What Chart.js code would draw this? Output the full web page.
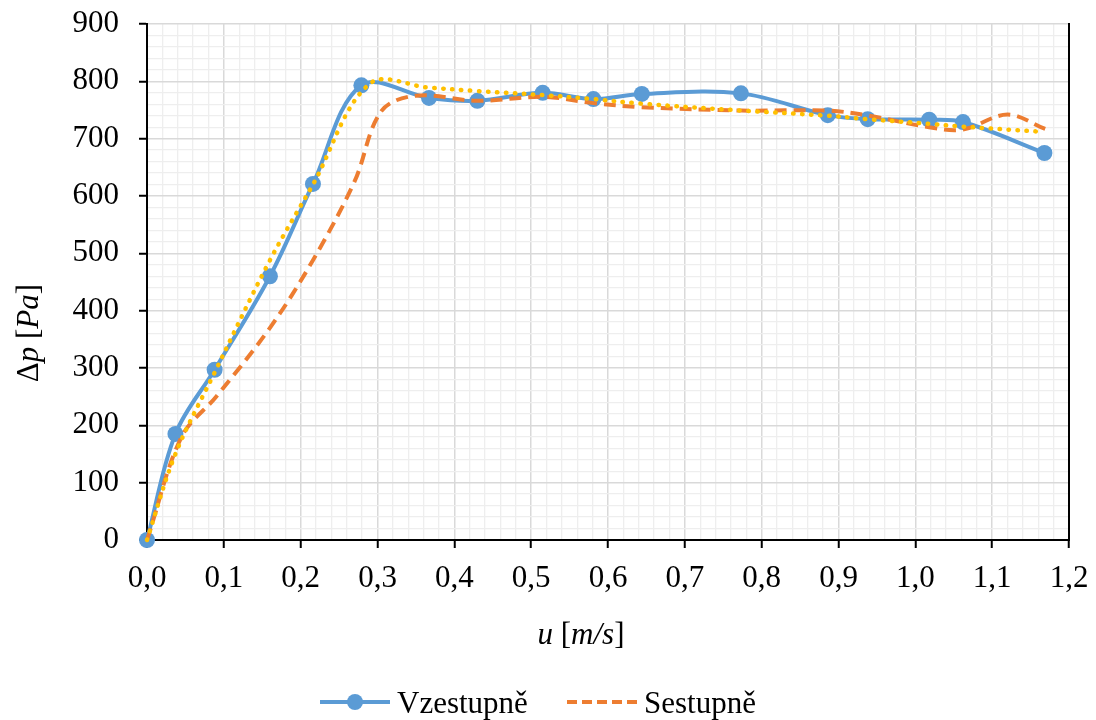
<!DOCTYPE html>
<html>
<head>
<meta charset="utf-8">
<script src="https://cdn.jsdelivr.net/npm/chart.js@4/dist/chart.umd.min.js"></script>
<style>
html,body{margin:0;padding:0;background:#fff;}
#c{display:block;}
</style>
</head>
<body>
<canvas id="c" width="1096" height="720" style="width:1096px;height:720px"></canvas>
<script>
// ---- data ----
const SERIES_NAMES = ['Vzestupně', 'Sestupně'];

// ascending series (with markers)
const U_UP = [0, 0.037, 0.088, 0.160, 0.216, 0.279, 0.367, 0.430, 0.515, 0.581, 0.644, 0.773, 0.886, 0.938, 1.018, 1.062, 1.168];
const P_UP = [0, 185, 297, 460, 621, 793, 771, 766, 780, 769, 778, 779, 741, 734, 733, 729, 675];

// descending series (dashed)
const U_DOWN = [0, 0.045, 0.090, 0.160, 0.216, 0.270, 0.305, 0.350, 0.430, 0.516, 0.581, 0.644, 0.774, 0.886, 0.940, 1.018, 1.062, 1.120, 1.169];
const P_DOWN = [0, 180, 250, 370, 488, 625, 748, 775, 766, 773, 762, 755, 749, 749, 740, 720, 716, 742, 717];

// dotted helper curve (not in legend)
const U_AVG = [0, 0.037, 0.088, 0.160, 0.216, 0.290, 0.367, 0.430, 0.516, 0.581, 0.644, 0.774, 0.886, 0.938, 1.018, 1.062, 1.165];
const P_AVG = [0, 150, 292, 488, 620, 796, 789, 783, 776, 769, 761, 749, 740, 734, 726, 721, 712];

const X_TICK_LABELS = ['0,0','0,1','0,2','0,3','0,4','0,5','0,6','0,7','0,8','0,9','1,0','1,1','1,2'];
const Y_TICK_LABELS = ['0','100','200','300','400','500','600','700','800','900'];

const X_TITLE = [['u', true], [' [', false], ['m/s', true], [']', false]];
const Y_TITLE = [['Δ', false], ['p', true], [' [', false], ['Pa', true], [']', false]];

// ---- styles ----
const BLUE = '#5B9BD5', ORANGE = '#ED7D31', YELLOW = '#FFC000';
const FAMILY = '"Liberation Serif", "Times New Roman", serif';
const FS = 31;

function pts(us, ps) { return us.map((u, i) => ({x: u, y: ps[i]})); }
function isMajor(v, step) { const r = v / step; return Math.abs(r - Math.round(r)) < 1e-6; }
function noPad(s) { s.paddingTop = 0; s.paddingBottom = 0; s.paddingLeft = 0; s.paddingRight = 0; }

const overlay = {
  id: 'overlay',
  afterDraw(chart) {
    const ctx = chart.ctx;
    ctx.save();
    ctx.fillStyle = '#000';
    ctx.textBaseline = 'middle';
    function seg(parts) {
      let w = 0;
      const m = parts.map(([t, it]) => {
        ctx.font = (it ? 'italic ' : '') + FS + 'px ' + FAMILY;
        const ww = ctx.measureText(t).width; w += ww; return ww;
      });
      return {w, m};
    }
    function drawParts(parts, cx, cy, rot) {
      ctx.save();
      ctx.translate(cx, cy);
      ctx.rotate(rot);
      const {w, m} = seg(parts);
      let x = -w / 2;
      ctx.textAlign = 'left';
      parts.forEach(([t, it], i) => {
        ctx.font = (it ? 'italic ' : '') + FS + 'px ' + FAMILY;
        ctx.fillText(t, x, 0);
        x += m[i];
      });
      ctx.restore();
    }
    drawParts(X_TITLE, 581, 636, 0);
    drawParts(Y_TITLE, 30, 333, -Math.PI / 2);

    // legend
    const ly = 702;
    ctx.lineWidth = 4;
    ctx.strokeStyle = BLUE;
    ctx.beginPath(); ctx.moveTo(320, ly); ctx.lineTo(390, ly); ctx.stroke();
    ctx.fillStyle = BLUE;
    ctx.beginPath(); ctx.arc(355, ly, 8, 0, Math.PI * 2); ctx.fill();
    ctx.strokeStyle = ORANGE;
    ctx.setLineDash([10, 5]);
    ctx.beginPath(); ctx.moveTo(567, ly); ctx.lineTo(637, ly); ctx.stroke();
    ctx.setLineDash([]);
    ctx.fillStyle = '#000';
    ctx.font = FS + 'px ' + FAMILY;
    ctx.textAlign = 'left';
    ctx.textBaseline = 'alphabetic';
    ctx.fillText(SERIES_NAMES[0], 397, 713);
    ctx.fillText(SERIES_NAMES[1], 644, 713);
    ctx.restore();
  }
};

const tickFont = {family: FAMILY, size: FS};

new Chart(document.getElementById('c'), {
  type: 'line',
  data: {
    datasets: [
      {
        label: SERIES_NAMES[0], data: pts(U_UP, P_UP),
        borderColor: BLUE, backgroundColor: BLUE, borderWidth: 4,
        pointRadius: 8, pointBackgroundColor: BLUE, pointBorderColor: BLUE, pointBorderWidth: 0,
        tension: 0.35, order: 3, clip: false, xAxisID: 'x', yAxisID: 'y'
      },
      {
        label: SERIES_NAMES[1], data: pts(U_DOWN, P_DOWN),
        borderColor: ORANGE, backgroundColor: ORANGE, borderWidth: 4, borderDash: [12, 7],
        pointRadius: 0, tension: 0.35, order: 2, clip: false, xAxisID: 'x', yAxisID: 'y'
      },
      {
        label: '', data: pts(U_AVG, P_AVG),
        borderColor: YELLOW, backgroundColor: YELLOW, borderWidth: 4.5, borderDash: [0.5, 8.5],
        borderCapStyle: 'round',
        pointRadius: 0, tension: 0.35, order: 1, clip: false, xAxisID: 'x', yAxisID: 'y'
      }
    ]
  },
  options: {
    responsive: false, animation: false, devicePixelRatio: 1,
    layout: {padding: {top: 24, left: 0, right: 0, bottom: 0}},
    plugins: {legend: {display: false}, tooltip: {enabled: false}},
    scales: {
      x: {
        type: 'linear', position: 'bottom', min: 0, max: 1.2,
        ticks: {stepSize: 0.1, autoSkip: false, maxRotation: 0, padding: 12, font: tickFont, color: '#000',
                callback: (v, i) => X_TICK_LABELS[i]},
        grid: {color: '#d9d9d9', lineWidth: 1.5, tickColor: '#000', tickWidth: 2, tickLength: 8},
        border: {color: '#000', width: 2},
        afterFit: s => { s.height = 180; noPad(s); }
      },
      xm: {
        type: 'linear', position: 'bottom', min: 0, max: 1.2,
        ticks: {display: false, stepSize: 0.02},
        grid: {color: c => isMajor(c.tick.value, 0.1) ? 'rgba(0,0,0,0)' : '#eeeeee', lineWidth: 1.3, drawTicks: false},
        border: {display: false},
        afterFit: s => { s.height = 0; noPad(s); }
      },
      y: {
        type: 'linear', position: 'left', min: 0, max: 900,
        ticks: {stepSize: 100, padding: 20, font: tickFont, color: '#000',
                callback: (v, i) => Y_TICK_LABELS[i]},
        grid: {color: '#d9d9d9', lineWidth: 1.5, tickColor: '#000', tickWidth: 2, tickLength: 8},
        border: {color: '#000', width: 2},
        afterFit: s => { s.width = 147; noPad(s); }
      },
      ym: {
        type: 'linear', position: 'left', min: 0, max: 900,
        ticks: {display: false, stepSize: 20},
        grid: {color: c => isMajor(c.tick.value, 100) ? 'rgba(0,0,0,0)' : '#eeeeee', lineWidth: 1.3, drawTicks: false},
        border: {display: false},
        afterFit: s => { s.width = 0; noPad(s); }
      },
      yr: {
        type: 'linear', position: 'right', min: 0, max: 900,
        ticks: {display: false},
        grid: {display: false, drawTicks: false},
        border: {color: '#000', width: 2},
        afterFit: s => { s.width = 27; noPad(s); }
      }
    }
  },
  plugins: [overlay]
});
</script>
</body>
</html>
